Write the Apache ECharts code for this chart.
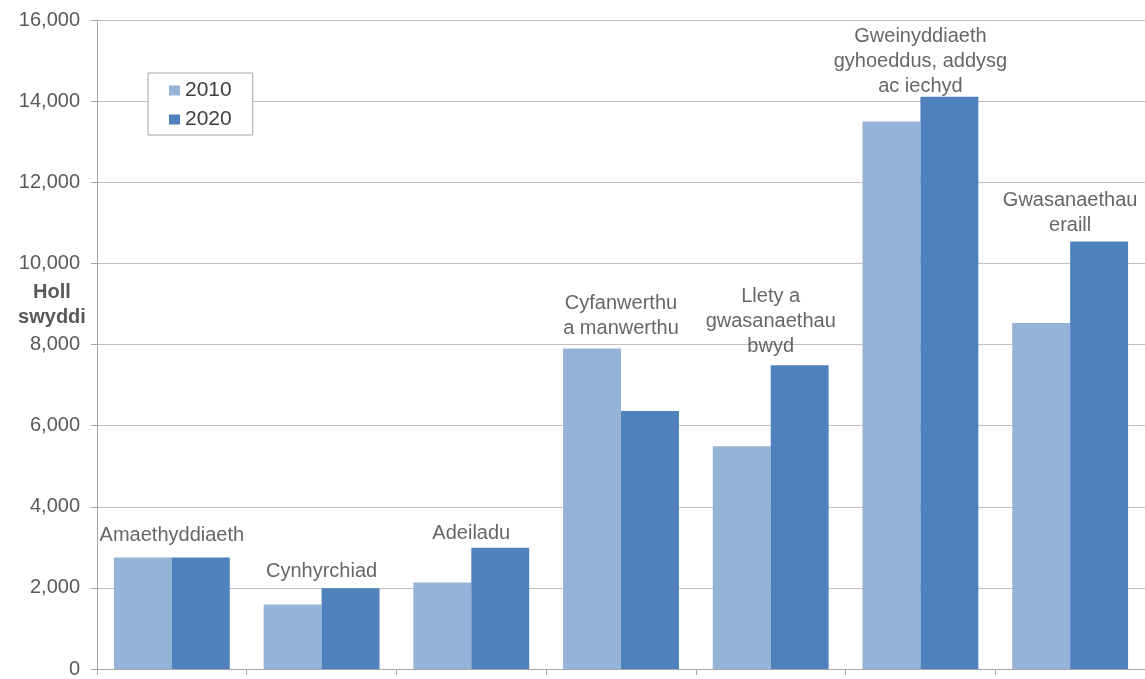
<!DOCTYPE html>
<html><head><meta charset="utf-8">
<script src="https://cdn.jsdelivr.net/npm/echarts@6/dist/echarts.min.js"></script>
<style>html,body{margin:0;padding:0;background:#fff;overflow:hidden}#c{width:1145px;height:679px}</style>
</head><body><div id="c"></div>
<script>
const categories = ['Amaethyddiaeth','Cynhyrchiad','Adeiladu','Cyfanwerthu\na manwerthu','Llety a\ngwasanaethau\nbwyd','Gweinyddiaeth\ngyhoeddus, addysg\nac iechyd','Gwasanaethau\neraill'];
const values2010 = [2750, 1590, 2130, 7900, 5490, 13500, 8530];
const values2020 = [2750, 1990, 2990, 6360, 7490, 14110, 10540];
const yTicks = {min: 0, max: 16000, interval: 2000};
const seriesNames = ['2010', '2020'];
const yName = 'Holl\nswyddi';
// label placement (style): gap in px between label block and top bar
const labelDistances = [9, 4, 1.5, 7.5, 5.5, -2.5, 2.5];

const labelPoints = categories.map((c, i) => ({
  value: [i, Math.max(values2010[i], values2020[i])],
  label: {distance: labelDistances[i]}
}));

const chart = echarts.init(document.getElementById('c'));
const font = 'Liberation Sans, Arial, sans-serif';
chart.setOption({
  animation: false,
  textStyle: {fontFamily: font},
  grid: {left: 97, right: 0, top: 20, height: 654, containLabel: false},
  legend: {
    data: seriesNames, orient: 'vertical', left: 148, top: 73, icon: 'rect',
    padding: [7, 21, 5, 21], itemGap: 8, itemWidth: 11, itemHeight: 10, itemTextGap: 6,
    borderColor: '#a6a6a6', borderWidth: 1, backgroundColor: '#fff',
    textStyle: {fontSize: 21, color: '#404040', fontFamily: font}
  },
  graphic: [{
    type: 'text', x: 52, y: 305,
    style: {text: yName, font: 'bold 20px ' + font, fill: '#595959', textAlign: 'center', textVerticalAlign: 'middle', lineHeight: 25}
  }],
  xAxis: {
    type: 'category', data: categories,
    axisLine: {lineStyle: {color: '#a6a6a6'}},
    axisTick: {show: true, length: 6, lineStyle: {color: '#a6a6a6'}},
    axisLabel: {show: false}
  },
  yAxis: {
    type: 'value', min: yTicks.min, max: yTicks.max, interval: yTicks.interval,
    axisLine: {show: true, lineStyle: {color: '#a6a6a6'}},
    axisTick: {show: true, length: 6, lineStyle: {color: '#a6a6a6'}},
    splitLine: {lineStyle: {color: '#bfbfbf'}},
    axisLabel: {fontSize: 20, color: '#595959', margin: 17, fontFamily: font,
      formatter: v => v.toLocaleString('en-US')}
  },
  series: [
    {name: seriesNames[0], type: 'bar', data: values2010, barGap: '0%', barCategoryGap: '22.6%',
     itemStyle: {color: '#95b3d7'}},
    {name: seriesNames[1], type: 'bar', data: values2020, barGap: '0%', barCategoryGap: '22.6%',
     itemStyle: {color: '#4f81bd'}},
    {type: 'scatter', data: labelPoints, symbolSize: 1, itemStyle: {color: 'rgba(0,0,0,0)'},
     silent: true, z: 5,
     label: {show: true, position: 'top', fontSize: 20, color: '#404040', lineHeight: 25,
       fontFamily: font, formatter: p => categories[p.dataIndex]}}
  ]
});
</script></body></html>
